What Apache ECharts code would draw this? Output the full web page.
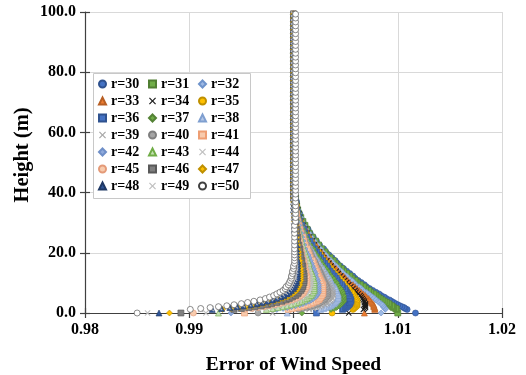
<!DOCTYPE html>
<html>
<head>
<meta charset="utf-8">
<script src="https://cdn.jsdelivr.net/npm/echarts/dist/echarts.min.js"></script>
<style>
  html, body { margin: 0; padding: 0; background: #ffffff; }
  #chart { width: 526px; height: 375px; }
</style>
</head>
<body>
<div id="chart"></div>
<script>
// Heights (m) at which every profile is sampled; finer near the ground.
const HEIGHTS = [
  0, 1.2, 1.5, 1.8, 2.1, 2.4, 2.75, 3.1, 3.5, 3.9,
  4.35, 4.8, 5.3, 5.8, 6.35, 6.9, 7.5, 8.1, 8.75, 9.4,
  10.1, 10.8, 11.55, 12.3, 13.1, 13.9, 14.75, 15.6, 16.5, 17.4,
  18.35, 19.3, 20.3, 21.3,
  22.6, 23.9, 25.2, 26.5, 27.8, 29.1, 30.4, 31.7, 33.0, 34.3,
  35.6, 36.9, 38.2, 39.5, 40.8, 42.1, 43.4, 44.7, 46.0, 47.3,
  48.6, 49.9, 51.2, 52.5, 53.8, 55.1, 56.4, 57.7, 59.0, 60.3,
  61.6, 62.9, 64.2, 65.5, 66.8, 68.1, 69.4, 70.7, 72.0, 73.3,
  74.6, 75.9, 77.2, 78.5, 79.8, 81.1, 82.4, 83.7, 85.0, 86.3,
  87.6, 88.9, 90.2, 91.5, 92.8, 94.1, 95.4, 96.7, 98.0, 99.3
];

// Error of wind speed per radius, one value per height above.
const r30 = [
  1.0117, 1.0109, 1.0107, 1.0106, 1.0104, 1.0102, 1.0100, 1.0098, 1.0096, 1.0094,
  1.0092, 1.0089, 1.0087, 1.0084, 1.0082, 1.0079, 1.0076, 1.0073, 1.0070, 1.0068,
  1.0065, 1.0062, 1.0059, 1.0057, 1.0054, 1.0051, 1.0048, 1.0045, 1.0042, 1.0040,
  1.0037, 1.0034, 1.0031, 1.0029,
  1.0025, 1.0022, 1.0019, 1.0016, 1.0014, 1.0011, 1.0009, 1.0007, 1.0006, 1.0004,
  1.0003, 1.0003, 1.0002, 1.0001, 1.0001, 1.0001, 1, 1, 1, 1,
  1, 1, 1, 1, 1, 1, 1, 1, 1, 1,
  1, 1, 1, 1, 1, 1, 1, 1, 1, 1,
  1, 1, 1, 1, 1, 1, 1, 1, 1, 1,
  1, 1, 1, 1, 1, 1, 1, 1, 1, 1
];
const r31 = [
  1.0100, 1.0099, 1.0098, 1.0096, 1.0095, 1.0094, 1.0092, 1.0091, 1.0089, 1.0087,
  1.0085, 1.0083, 1.0081, 1.0079, 1.0077, 1.0074, 1.0072, 1.0069, 1.0067, 1.0064,
  1.0061, 1.0059, 1.0056, 1.0054, 1.0051, 1.0048, 1.0046, 1.0043, 1.0040, 1.0038,
  1.0035, 1.0032, 1.0030, 1.0027,
  1.0024, 1.0021, 1.0018, 1.0015, 1.0013, 1.0011, 1.0009, 1.0007, 1.0005, 1.0004,
  1.0003, 1.0002, 1.0002, 1.0001, 1.0001, 1.0001, 1, 1, 1, 1,
  1, 1, 1, 1, 1, 1, 1, 1, 1, 1,
  1, 1, 1, 1, 1, 1, 1, 1, 1, 1,
  1, 1, 1, 1, 1, 1, 1, 1, 1, 1,
  1, 1, 1, 1, 1, 1, 1, 1, 1, 1
];
const r32 = [
  1.0084, 1.0088, 1.0088, 1.0087, 1.0086, 1.0086, 1.0085, 1.0084, 1.0082, 1.0081,
  1.0079, 1.0078, 1.0076, 1.0074, 1.0072, 1.0070, 1.0067, 1.0065, 1.0063, 1.0060,
  1.0058, 1.0056, 1.0053, 1.0051, 1.0048, 1.0046, 1.0043, 1.0041, 1.0038, 1.0036,
  1.0033, 1.0031, 1.0028, 1.0026,
  1.0023, 1.0020, 1.0017, 1.0015, 1.0012, 1.0010, 1.0008, 1.0007, 1.0005, 1.0004,
  1.0003, 1.0002, 1.0002, 1.0001, 1.0001, 1.0001, 1, 1, 1, 1,
  1, 1, 1, 1, 1, 1, 1, 1, 1, 1,
  1, 1, 1, 1, 1, 1, 1, 1, 1, 1,
  1, 1, 1, 1, 1, 1, 1, 1, 1, 1,
  1, 1, 1, 1, 1, 1, 1, 1, 1, 1
];
const r33 = [
  1.0068, 1.0078, 1.0078, 1.0078, 1.0077, 1.0077, 1.0077, 1.0076, 1.0075, 1.0074,
  1.0073, 1.0072, 1.0070, 1.0069, 1.0067, 1.0065, 1.0063, 1.0061, 1.0059, 1.0057,
  1.0054, 1.0052, 1.0050, 1.0048, 1.0045, 1.0043, 1.0041, 1.0038, 1.0036, 1.0034,
  1.0031, 1.0029, 1.0027, 1.0024,
  1.0022, 1.0019, 1.0016, 1.0014, 1.0012, 1.0010, 1.0008, 1.0006, 1.0005, 1.0004,
  1.0003, 1.0002, 1.0002, 1.0001, 1.0001, 1.0001, 1, 1, 1, 1,
  1, 1, 1, 1, 1, 1, 1, 1, 1, 1,
  1, 1, 1, 1, 1, 1, 1, 1, 1, 1,
  1, 1, 1, 1, 1, 1, 1, 1, 1, 1,
  1, 1, 1, 1, 1, 1, 1, 1, 1, 1
];
const r34 = [
  1.0053, 1.0067, 1.0068, 1.0069, 1.0069, 1.0069, 1.0069, 1.0069, 1.0068, 1.0068,
  1.0067, 1.0066, 1.0065, 1.0064, 1.0062, 1.0060, 1.0059, 1.0057, 1.0055, 1.0053,
  1.0051, 1.0049, 1.0047, 1.0045, 1.0043, 1.0041, 1.0038, 1.0036, 1.0034, 1.0032,
  1.0029, 1.0027, 1.0025, 1.0023,
  1.0020, 1.0018, 1.0015, 1.0013, 1.0011, 1.0009, 1.0007, 1.0006, 1.0005, 1.0004,
  1.0003, 1.0002, 1.0002, 1.0001, 1.0001, 1.0001, 1, 1, 1, 1,
  1, 1, 1, 1, 1, 1, 1, 1, 1, 1,
  1, 1, 1, 1, 1, 1, 1, 1, 1, 1,
  1, 1, 1, 1, 1, 1, 1, 1, 1, 1,
  1, 1, 1, 1, 1, 1, 1, 1, 1, 1
];
const r35 = [
  1.0037, 1.0057, 1.0058, 1.0059, 1.0060, 1.0061, 1.0061, 1.0061, 1.0061, 1.0061,
  1.0061, 1.0060, 1.0059, 1.0058, 1.0057, 1.0056, 1.0054, 1.0053, 1.0051, 1.0049,
  1.0048, 1.0046, 1.0044, 1.0042, 1.0040, 1.0038, 1.0036, 1.0034, 1.0032, 1.0030,
  1.0028, 1.0026, 1.0024, 1.0021,
  1.0019, 1.0017, 1.0014, 1.0012, 1.0010, 1.0008, 1.0007, 1.0005, 1.0004, 1.0003,
  1.0003, 1.0002, 1.0001, 1.0001, 1.0001, 1.0001, 1, 1, 1, 1,
  1, 1, 1, 1, 1, 1, 1, 1, 1, 1,
  1, 1, 1, 1, 1, 1, 1, 1, 1, 1,
  1, 1, 1, 1, 1, 1, 1, 1, 1, 1,
  1, 1, 1, 1, 1, 1, 1, 1, 1, 1
];
const r36 = [
  1.0022, 1.0047, 1.0048, 1.0050, 1.0051, 1.0052, 1.0053, 1.0054, 1.0054, 1.0055,
  1.0055, 1.0054, 1.0054, 1.0053, 1.0052, 1.0051, 1.0050, 1.0049, 1.0047, 1.0046,
  1.0044, 1.0042, 1.0041, 1.0039, 1.0037, 1.0035, 1.0033, 1.0032, 1.0030, 1.0028,
  1.0026, 1.0024, 1.0022, 1.0020,
  1.0018, 1.0016, 1.0013, 1.0011, 1.0010, 1.0008, 1.0006, 1.0005, 1.0004, 1.0003,
  1.0002, 1.0002, 1.0001, 1.0001, 1.0001, 1, 1, 1, 1, 1,
  1, 1, 1, 1, 1, 1, 1, 1, 1, 1,
  1, 1, 1, 1, 1, 1, 1, 1, 1, 1,
  1, 1, 1, 1, 1, 1, 1, 1, 1, 1,
  1, 1, 1, 1, 1, 1, 1, 1, 1, 1
];
const r37 = [
  1.0008, 1.0036, 1.0039, 1.0041, 1.0042, 1.0044, 1.0045, 1.0046, 1.0047, 1.0048,
  1.0048, 1.0048, 1.0048, 1.0048, 1.0047, 1.0047, 1.0046, 1.0045, 1.0043, 1.0042,
  1.0041, 1.0039, 1.0038, 1.0036, 1.0034, 1.0033, 1.0031, 1.0029, 1.0027, 1.0026,
  1.0024, 1.0022, 1.0020, 1.0019,
  1.0016, 1.0014, 1.0012, 1.0011, 1.0009, 1.0007, 1.0006, 1.0005, 1.0004, 1.0003,
  1.0002, 1.0002, 1.0001, 1.0001, 1.0001, 1, 1, 1, 1, 1,
  1, 1, 1, 1, 1, 1, 1, 1, 1, 1,
  1, 1, 1, 1, 1, 1, 1, 1, 1, 1,
  1, 1, 1, 1, 1, 1, 1, 1, 1, 1,
  1, 1, 1, 1, 1, 1, 1, 1, 1, 1
];
const r38 = [
  0.9994, 1.0026, 1.0029, 1.0031, 1.0034, 1.0036, 1.0037, 1.0039, 1.0040, 1.0041,
  1.0042, 1.0043, 1.0043, 1.0043, 1.0043, 1.0042, 1.0041, 1.0041, 1.0040, 1.0038,
  1.0037, 1.0036, 1.0035, 1.0033, 1.0032, 1.0030, 1.0029, 1.0027, 1.0025, 1.0024,
  1.0022, 1.0020, 1.0019, 1.0017,
  1.0015, 1.0013, 1.0011, 1.0010, 1.0008, 1.0007, 1.0006, 1.0004, 1.0003, 1.0003,
  1.0002, 1.0002, 1.0001, 1.0001, 1.0001, 1, 1, 1, 1, 1,
  1, 1, 1, 1, 1, 1, 1, 1, 1, 1,
  1, 1, 1, 1, 1, 1, 1, 1, 1, 1,
  1, 1, 1, 1, 1, 1, 1, 1, 1, 1,
  1, 1, 1, 1, 1, 1, 1, 1, 1, 1
];
const r39 = [
  0.9980, 1.0015, 1.0019, 1.0022, 1.0025, 1.0027, 1.0030, 1.0032, 1.0033, 1.0035,
  1.0036, 1.0037, 1.0037, 1.0038, 1.0038, 1.0038, 1.0037, 1.0037, 1.0036, 1.0035,
  1.0034, 1.0033, 1.0031, 1.0030, 1.0029, 1.0028, 1.0026, 1.0025, 1.0023, 1.0022,
  1.0020, 1.0019, 1.0017, 1.0016,
  1.0014, 1.0012, 1.0011, 1.0009, 1.0008, 1.0006, 1.0005, 1.0004, 1.0003, 1.0002,
  1.0002, 1.0001, 1.0001, 1.0001, 1.0001, 1, 1, 1, 1, 1,
  1, 1, 1, 1, 1, 1, 1, 1, 1, 1,
  1, 1, 1, 1, 1, 1, 1, 1, 1, 1,
  1, 1, 1, 1, 1, 1, 1, 1, 1, 1,
  1, 1, 1, 1, 1, 1, 1, 1, 1, 1
];
const r40 = [
  0.9966, 1.0005, 1.0009, 1.0013, 1.0016, 1.0019, 1.0022, 1.0024, 1.0026, 1.0028,
  1.0030, 1.0031, 1.0032, 1.0033, 1.0033, 1.0033, 1.0033, 1.0032, 1.0032, 1.0031,
  1.0030, 1.0029, 1.0028, 1.0027, 1.0026, 1.0025, 1.0024, 1.0022, 1.0021, 1.0020,
  1.0018, 1.0017, 1.0016, 1.0014,
  1.0013, 1.0011, 1.0010, 1.0008, 1.0007, 1.0006, 1.0005, 1.0004, 1.0003, 1.0002,
  1.0002, 1.0001, 1.0001, 1.0001, 1.0001, 1, 1, 1, 1, 1,
  1, 1, 1, 1, 1, 1, 1, 1, 1, 1,
  1, 1, 1, 1, 1, 1, 1, 1, 1, 1,
  1, 1, 1, 1, 1, 1, 1, 1, 1, 1,
  1, 1, 1, 1, 1, 1, 1, 1, 1, 1
];
const r41 = [
  0.9953, 0.9995, 0.9999, 1.0004, 1.0007, 1.0010, 1.0014, 1.0017, 1.0019, 1.0022,
  1.0024, 1.0025, 1.0026, 1.0027, 1.0028, 1.0028, 1.0028, 1.0028, 1.0028, 1.0028,
  1.0027, 1.0026, 1.0025, 1.0024, 1.0023, 1.0022, 1.0021, 1.0020, 1.0019, 1.0018,
  1.0016, 1.0015, 1.0014, 1.0013,
  1.0011, 1.0010, 1.0009, 1.0007, 1.0006, 1.0005, 1.0004, 1.0003, 1.0003, 1.0002,
  1.0002, 1.0001, 1.0001, 1.0001, 1, 1, 1, 1, 1, 1,
  1, 1, 1, 1, 1, 1, 1, 1, 1, 1,
  1, 1, 1, 1, 1, 1, 1, 1, 1, 1,
  1, 1, 1, 1, 1, 1, 1, 1, 1, 1,
  1, 1, 1, 1, 1, 1, 1, 1, 1, 1
];
const r42 = [
  0.9940, 0.9984, 0.9990, 0.9994, 0.9998, 1.0002, 1.0006, 1.0009, 1.0012, 1.0015,
  1.0017, 1.0019, 1.0021, 1.0022, 1.0023, 1.0024, 1.0024, 1.0024, 1.0024, 1.0024,
  1.0023, 1.0023, 1.0022, 1.0021, 1.0021, 1.0020, 1.0019, 1.0018, 1.0017, 1.0016,
  1.0015, 1.0014, 1.0012, 1.0011,
  1.0010, 1.0009, 1.0008, 1.0007, 1.0005, 1.0005, 1.0004, 1.0003, 1.0002, 1.0002,
  1.0001, 1.0001, 1.0001, 1.0001, 1, 1, 1, 1, 1, 1,
  1, 1, 1, 1, 1, 1, 1, 1, 1, 1,
  1, 1, 1, 1, 1, 1, 1, 1, 1, 1,
  1, 1, 1, 1, 1, 1, 1, 1, 1, 1,
  1, 1, 1, 1, 1, 1, 1, 1, 1, 1
];
const r43 = [
  0.9928, 0.9974, 0.9980, 0.9985, 0.9990, 0.9994, 0.9998, 1.0002, 1.0005, 1.0008,
  1.0011, 1.0013, 1.0015, 1.0017, 1.0018, 1.0019, 1.0020, 1.0020, 1.0020, 1.0020,
  1.0020, 1.0020, 1.0019, 1.0019, 1.0018, 1.0017, 1.0016, 1.0015, 1.0015, 1.0014,
  1.0013, 1.0012, 1.0011, 1.0010,
  1.0009, 1.0008, 1.0007, 1.0006, 1.0005, 1.0004, 1.0003, 1.0003, 1.0002, 1.0002,
  1.0001, 1.0001, 1.0001, 1, 1, 1, 1, 1, 1, 1,
  1, 1, 1, 1, 1, 1, 1, 1, 1, 1,
  1, 1, 1, 1, 1, 1, 1, 1, 1, 1,
  1, 1, 1, 1, 1, 1, 1, 1, 1, 1,
  1, 1, 1, 1, 1, 1, 1, 1, 1, 1
];
const r44 = [
  0.9916, 0.9963, 0.9970, 0.9976, 0.9981, 0.9986, 0.9990, 0.9994, 0.9998, 1.0002,
  1.0005, 1.0008, 1.0010, 1.0012, 1.0013, 1.0015, 1.0015, 1.0016, 1.0016, 1.0017,
  1.0017, 1.0016, 1.0016, 1.0016, 1.0015, 1.0015, 1.0014, 1.0013, 1.0012, 1.0012,
  1.0011, 1.0010, 1.0009, 1.0009,
  1.0008, 1.0007, 1.0006, 1.0005, 1.0004, 1.0003, 1.0003, 1.0002, 1.0002, 1.0001,
  1.0001, 1.0001, 1.0001, 1, 1, 1, 1, 1, 1, 1,
  1, 1, 1, 1, 1, 1, 1, 1, 1, 1,
  1, 1, 1, 1, 1, 1, 1, 1, 1, 1,
  1, 1, 1, 1, 1, 1, 1, 1, 1, 1,
  1, 1, 1, 1, 1, 1, 1, 1, 1, 1
];
const r45 = [
  0.9904, 0.9953, 0.9960, 0.9966, 0.9972, 0.9977, 0.9982, 0.9987, 0.9991, 0.9995,
  0.9999, 1.0002, 1.0005, 1.0007, 1.0009, 1.0010, 1.0011, 1.0012, 1.0013, 1.0013,
  1.0013, 1.0013, 1.0013, 1.0013, 1.0012, 1.0012, 1.0011, 1.0011, 1.0010, 1.0010,
  1.0009, 1.0008, 1.0008, 1.0007,
  1.0006, 1.0006, 1.0005, 1.0004, 1.0003, 1.0003, 1.0002, 1.0002, 1.0001, 1.0001,
  1.0001, 1.0001, 1, 1, 1, 1, 1, 1, 1, 1,
  1, 1, 1, 1, 1, 1, 1, 1, 1, 1,
  1, 1, 1, 1, 1, 1, 1, 1, 1, 1,
  1, 1, 1, 1, 1, 1, 1, 1, 1, 1,
  1, 1, 1, 1, 1, 1, 1, 1, 1, 1
];
const r46 = [
  0.9892, 0.9943, 0.9950, 0.9957, 0.9963, 0.9969, 0.9975, 0.9979, 0.9984, 0.9989,
  0.9993, 0.9996, 0.9999, 1.0002, 1.0004, 1.0005, 1.0007, 1.0008, 1.0009, 1.0009,
  1.0010, 1.0010, 1.0010, 1.0010, 1.0010, 1.0009, 1.0009, 1.0009, 1.0008, 1.0008,
  1.0007, 1.0007, 1.0006, 1.0006,
  1.0005, 1.0004, 1.0004, 1.0003, 1.0003, 1.0002, 1.0002, 1.0001, 1.0001, 1.0001,
  1.0001, 1.0001, 1, 1, 1, 1, 1, 1, 1, 1,
  1, 1, 1, 1, 1, 1, 1, 1, 1, 1,
  1, 1, 1, 1, 1, 1, 1, 1, 1, 1,
  1, 1, 1, 1, 1, 1, 1, 1, 1, 1,
  1, 1, 1, 1, 1, 1, 1, 1, 1, 1
];
const r47 = [
  0.9881, 0.9932, 0.9940, 0.9948, 0.9955, 0.9961, 0.9967, 0.9972, 0.9977, 0.9982,
  0.9986, 0.9990, 0.9994, 0.9996, 0.9999, 1.0001, 1.0003, 1.0004, 1.0005, 1.0006,
  1.0006, 1.0007, 1.0007, 1.0007, 1.0007, 1.0007, 1.0007, 1.0006, 1.0006, 1.0006,
  1.0005, 1.0005, 1.0005, 1.0004,
  1.0004, 1.0003, 1.0003, 1.0002, 1.0002, 1.0002, 1.0001, 1.0001, 1.0001, 1.0001,
  1.0001, 1, 1, 1, 1, 1, 1, 1, 1, 1,
  1, 1, 1, 1, 1, 1, 1, 1, 1, 1,
  1, 1, 1, 1, 1, 1, 1, 1, 1, 1,
  1, 1, 1, 1, 1, 1, 1, 1, 1, 1,
  1, 1, 1, 1, 1, 1, 1, 1, 1, 1
];
const r48 = [
  0.9871, 0.9922, 0.9931, 0.9939, 0.9946, 0.9952, 0.9959, 0.9965, 0.9970, 0.9975,
  0.9980, 0.9984, 0.9988, 0.9991, 0.9994, 0.9996, 0.9998, 1.0000, 1.0001, 1.0002,
  1.0003, 1.0003, 1.0004, 1.0004, 1.0004, 1.0004, 1.0004, 1.0004, 1.0004, 1.0004,
  1.0003, 1.0003, 1.0003, 1.0003,
  1.0003, 1.0002, 1.0002, 1.0002, 1.0001, 1.0001, 1.0001, 1.0001, 1.0001, 1,
  1, 1, 1, 1, 1, 1, 1, 1, 1, 1,
  1, 1, 1, 1, 1, 1, 1, 1, 1, 1,
  1, 1, 1, 1, 1, 1, 1, 1, 1, 1,
  1, 1, 1, 1, 1, 1, 1, 1, 1, 1,
  1, 1, 1, 1, 1, 1, 1, 1, 1, 1
];
const r49 = [
  0.9860, 0.9911, 0.9921, 0.9929, 0.9937, 0.9944, 0.9951, 0.9957, 0.9963, 0.9969,
  0.9974, 0.9978, 0.9983, 0.9986, 0.9989, 0.9992, 0.9994, 0.9996, 0.9997, 0.9998,
  0.9999, 1.0000, 1.0001, 1.0001, 1.0001, 1.0002, 1.0002, 1.0002, 1.0002, 1.0002,
  1.0002, 1.0002, 1.0001, 1.0001,
  1.0001, 1.0001, 1.0001, 1.0001, 1.0001, 1.0001, 1, 1, 1, 1,
  1, 1, 1, 1, 1, 1, 1, 1, 1, 1,
  1, 1, 1, 1, 1, 1, 1, 1, 1, 1,
  1, 1, 1, 1, 1, 1, 1, 1, 1, 1,
  1, 1, 1, 1, 1, 1, 1, 1, 1, 1,
  1, 1, 1, 1, 1, 1, 1, 1, 1, 1
];
const r50 = [
  0.9850, 0.9901, 0.9911, 0.9920, 0.9928, 0.9936, 0.9943, 0.9950, 0.9956, 0.9962,
  0.9968, 0.9973, 0.9977, 0.9981, 0.9984, 0.9987, 0.9990, 0.9992, 0.9993, 0.9995,
  0.9996, 0.9997, 0.9998, 0.9998, 0.9999, 0.9999, 1, 1, 1.0001, 1.0001,
  1.0001, 1.0001, 1.0001, 1.0001,
  1.0001, 1.0001, 1.0001, 1.0001, 1.0001, 1.0001, 1.0002, 1.0002, 1.0002, 1.0002,
  1.0002, 1.0002, 1.0002, 1.0002, 1.0002, 1.0002, 1.0002, 1.0002, 1.0002, 1.0002,
  1.0002, 1.0002, 1.0002, 1.0002, 1.0002, 1.0002, 1.0002, 1.0002, 1.0002, 1.0002,
  1.0002, 1.0002, 1.0002, 1.0002, 1.0002, 1.0002, 1.0002, 1.0002, 1.0002, 1.0002,
  1.0002, 1.0002, 1.0002, 1.0002, 1.0002, 1.0002, 1.0002, 1.0002, 1.0002, 1.0002,
  1.0002, 1.0002, 1.0002, 1.0002, 1.0002, 1.0002, 1.0002, 1.0002, 1.0002, 1.0002
];

const SERIES_NAMES = [
  'r=30', 'r=31', 'r=32', 'r=33', 'r=34', 'r=35', 'r=36', 'r=37', 'r=38', 'r=39', 'r=40',
  'r=41', 'r=42', 'r=43', 'r=44', 'r=45', 'r=46', 'r=47', 'r=48', 'r=49', 'r=50'
];
const SERIES_VALUES = [
  r30, r31, r32, r33, r34, r35, r36, r37, r38, r39, r40,
  r41, r42, r43, r44, r45, r46, r47, r48, r49, r50
];

const X_TICKS = [0.98, 0.99, 1.00, 1.01, 1.02];
const Y_TICKS = [0, 20, 40, 60, 80, 100];

// Marker shape, fill and outline for each radius.
const CROSS = 'path://M0,1.2L1.2,0L5,3.8L8.8,0L10,1.2L6.2,5L10,8.8L8.8,10L5,6.2L1.2,10L0,8.8L3.8,5Z';
const MARKERS = [
  ['circle',   '#4472C4', '#2F528F'],
  ['rect',     '#70AD47', '#507E32'],
  ['diamond',  '#9DB9E4', '#6E93CB'],
  ['triangle', '#ED7D31', '#B85F24'],
  [CROSS,      '#1A1A1A', null],
  ['circle',   '#FFC000', '#BF9000'],
  ['rect',     '#4472C4', '#2F528F'],
  ['diamond',  '#70AD47', '#548235'],
  ['triangle', '#B4C7E7', '#7F9FD0'],
  [CROSS,      '#A6A6A6', null],
  ['circle',   '#A5A5A5', '#7F7F7F'],
  ['rect',     '#F8CBAD', '#EE9E73'],
  ['diamond',  '#8FAADC', '#6F8FC8'],
  ['triangle', '#C5E0B4', '#70AD47'],
  [CROSS,      '#BFBFBF', null],
  ['circle',   '#F8CBAD', '#E49A78'],
  ['rect',     '#7F7F7F', '#595959'],
  ['diamond',  '#FFC000', '#BF9000'],
  ['triangle', '#2F5597', '#1F3864'],
  [CROSS,      '#BFBFBF', null],
  ['circle',   '#FFFFFF', '#404040']
];

const FONT = '"Liberation Serif", "Times New Roman", serif';
const AXIS_COLOR = '#404040';
const GRID_COLOR = '#D9D9D9';

const series = SERIES_NAMES.map((name, s) => {
  const [symbol, fill, edge] = MARKERS[s];
  const vals = SERIES_VALUES[s];
  return {
    type: 'scatter',
    name: name,
    data: vals.map((v, i) => [v, HEIGHTS[i]]),
    symbol: symbol,
    symbolSize: 6,
    itemStyle: edge
      ? { color: fill, borderColor: edge, borderWidth: 0.6, opacity: 1 }
      : { color: fill, borderWidth: 0, opacity: 1 },
    emphasis: { disabled: true },
    clip: true
  };
});

const legendColumn = (left, names) => ({
  orient: 'vertical',
  left: left,
  top: 75.5,
  padding: 0,
  itemGap: 0,
  itemWidth: 7,
  itemHeight: 7,
  selectedMode: false,
  data: names,
  textStyle: {
    fontFamily: FONT, fontWeight: 'bold', fontSize: 14, color: '#000', lineHeight: 17
  }
});

const xBase = {
  type: 'value',
  min: X_TICKS[0],
  max: X_TICKS[X_TICKS.length - 1],
  interval: 0.01
};
const yBase = {
  type: 'value',
  min: Y_TICKS[0],
  max: Y_TICKS[Y_TICKS.length - 1],
  interval: 20
};

const option = {
  animation: false,
  backgroundColor: '#ffffff',
  grid: { left: 85, right: 24, top: 12, bottom: 62, containLabel: false },
  xAxis: [
    Object.assign({}, xBase, {
      position: 'bottom',
      axisLine: { show: true, onZero: false, lineStyle: { color: AXIS_COLOR, width: 1.2 } },
      axisTick: { show: true, length: 5, lineStyle: { color: AXIS_COLOR, width: 1.2 } },
      axisLabel: {
        margin: 9, color: '#000', fontFamily: FONT, fontWeight: 'bold', fontSize: 16,
        formatter: v => v.toFixed(2)
      },
      splitLine: { show: true, lineStyle: { color: GRID_COLOR, width: 1 } }
    }),
    Object.assign({}, xBase, {
      position: 'bottom',
      axisLine: { show: false },
      axisTick: { show: true, inside: true, length: 5, lineStyle: { color: AXIS_COLOR, width: 1.2 } },
      axisLabel: { show: false },
      splitLine: { show: false }
    })
  ],
  yAxis: [
    Object.assign({}, yBase, {
      position: 'left',
      axisLine: { show: true, onZero: false, lineStyle: { color: AXIS_COLOR, width: 1.2 } },
      axisTick: { show: true, length: 5, lineStyle: { color: AXIS_COLOR, width: 1.2 } },
      axisLabel: {
        margin: 9, color: '#000', fontFamily: FONT, fontWeight: 'bold', fontSize: 16,
        formatter: v => v.toFixed(1)
      },
      splitLine: { show: true, lineStyle: { color: GRID_COLOR, width: 1 } }
    }),
    Object.assign({}, yBase, {
      position: 'left',
      axisLine: { show: false },
      axisTick: { show: true, inside: true, length: 5, lineStyle: { color: AXIS_COLOR, width: 1.2 } },
      axisLabel: { show: false },
      splitLine: { show: false }
    })
  ],
  legend: [
    legendColumn(98, ['r=30', 'r=33', 'r=36', 'r=39', 'r=42', 'r=45', 'r=48']),
    legendColumn(148, ['r=31', 'r=34', 'r=37', 'r=40', 'r=43', 'r=46', 'r=49']),
    legendColumn(198, ['r=32', 'r=35', 'r=38', 'r=41', 'r=44', 'r=47', 'r=50'])
  ],
  graphic: {
    elements: [
      {
        type: 'rect', z: 3,
        shape: { x: 93.5, y: 73.5, width: 157, height: 125 },
        style: { fill: '#ffffff', stroke: '#C8C8C8', lineWidth: 1 }
      },
      {
        type: 'text', z: 5, x: 293.5, y: 365,
        style: {
          text: 'Error of Wind Speed', font: 'bold 19.5px ' + FONT, fill: '#000',
          textAlign: 'center', textVerticalAlign: 'middle', align: 'center', verticalAlign: 'middle'
        }
      },
      {
        type: 'text', z: 5, x: 23, y: 155, rotation: Math.PI / 2,
        style: {
          text: 'Height (m)', font: 'bold 20.5px ' + FONT, fill: '#000',
          textAlign: 'center', textVerticalAlign: 'middle', align: 'center', verticalAlign: 'middle'
        }
      }
    ]
  },
  series: series
};

const chart = echarts.init(document.getElementById('chart'), null, { renderer: 'canvas' });
chart.setOption(option);
</script>
</body>
</html>
